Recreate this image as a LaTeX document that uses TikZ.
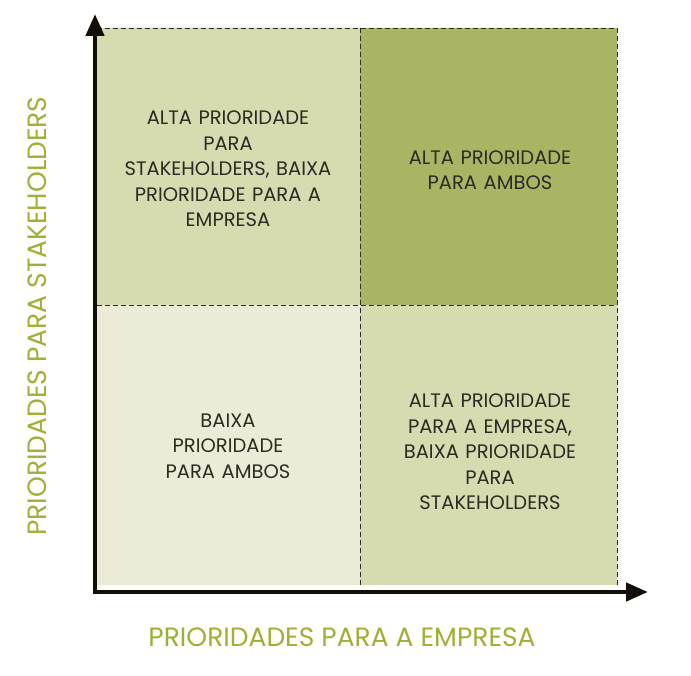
\documentclass[tikz,border=0pt]{standalone}
\usepackage{fontspec}
\setmainfont{Poppins}
\usetikzlibrary{arrows.meta}
\definecolor{mid}{HTML}{D6DBB0}
\definecolor{high}{HTML}{A9B563}
\definecolor{low}{HTML}{EBEBD7}
\definecolor{axislabel}{HTML}{9DB134}
\definecolor{ink}{HTML}{2B2B22}
\tikzset{
  quad/.style={draw=ink, dashed, dash pattern=on 5pt off 3pt, thin},
  qtext/.style={text=ink, font=\fontsize{19.5}{25.5}\selectfont, align=center, text width=250pt},
  axis/.style={line width=4.5pt, draw=black!90!brown, -{Triangle[length=22pt,width=18pt]}},
  axistext/.style={text=axislabel, font=\fontsize{26.5}{30}\selectfont}
}
\begin{document}
\begin{tikzpicture}[x=1pt,y=-1pt]
  \useasboundingbox (0,0) rectangle (691,676);
  % quadrants
  \fill[mid]  (97,28) rectangle (360,305);
  \fill[high] (360,28) rectangle (617,305);
  \fill[low]  (97,305) rectangle (360,585);
  \fill[mid]  (360,305) rectangle (617,585);
  \draw[quad] (97,28) -- (617,28) -- (617,585);
  \draw[quad] (97,305) -- (617,305);
  \draw[quad] (360,28) -- (360,585);
  % texts
  \node[qtext] (tl) at (228,169) {ALTA PRIORIDADE\\PARA\\STAKEHOLDERS, BAIXA\\PRIORIDADE PARA A\\EMPRESA};
  \node[qtext] (tr) at (490,170) {ALTA PRIORIDADE\\PARA AMBOS};
  \node[qtext] (bl) at (228,446) {BAIXA\\PRIORIDADE\\PARA AMBOS};
  \node[qtext] (br) at (490,452) {ALTA PRIORIDADE\\PARA A EMPRESA,\\BAIXA PRIORIDADE\\PARA\\STAKEHOLDERS};
  % axes
  \coordinate (ytip) at (95,14);
  \coordinate (xtip) at (648,592);
  \draw[axis] (95,594) -- (ytip);
  \draw[axis] (93,592) -- (xtip);
  \node[axistext] (xl) at (342,637) {PRIORIDADES PARA A EMPRESA};
  \node[axistext, rotate=90] (yl) at (37,316) {PRIORIDADES PARA STAKEHOLDERS};
\end{tikzpicture}
\end{document}
